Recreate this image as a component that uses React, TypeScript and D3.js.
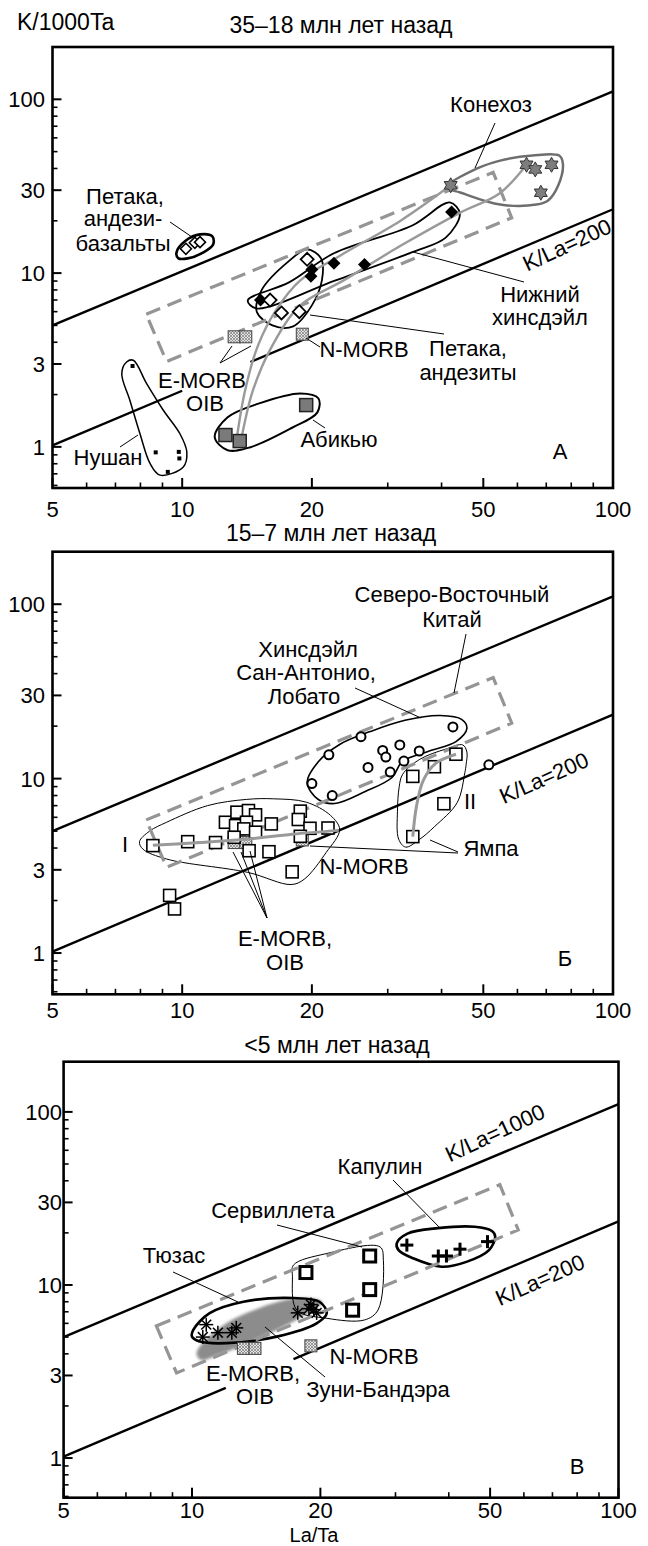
import React from "react";
import * as d3 from "d3";

type P = [number, number];

const FONT = "'Liberation Sans', Arial, Helvetica, sans-serif";
const FS = 22;
const FS_TITLE = 23;

// ---------- axis ticks ----------
const xMajorTicks = [5, 10, 20, 50, 100];
const xMinorTicks = [6, 7, 8, 9, 30, 40, 60, 70, 80, 90];
const yMajorTicks = [1, 3, 10, 30, 100];
const yMinorTicks = [0.6, 0.7, 0.8, 0.9, 2, 4, 5, 6, 7, 8, 9, 20, 40, 50, 60, 70, 80, 90];
const panelTitles = ["35–18 млн лет назад", "15–7 млн лет назад", "<5 млн лет назад"];
const panelLetters = ["А", "Б", "В"];

// ---------- reference compositions (La/Ta, K/1000Ta) ----------
const eMorbOib: P[] = [[13.2, 4.3], [14.05, 4.3]];
const nMorb: P[] = [[19.0, 4.45]];
const refBox: P[] = [[8.25, 5.8], [52.7, 38.0], [58.2, 20.8], [9.2, 3.1]];
const klaLine1000: P[] = [[5, 5.0], [100, 111]];
const klaLine200: P[] = [[5, 1.02], [100, 23.3]];

// ---------- panel A: 35–18 Ma ----------
const konehoz: P[] = [[42, 32], [63, 42], [66, 39.5], [72, 42], [68, 29]];
const konehozHull: P[] = [[41, 31.1], [48.4, 40], [54.7, 44.4], [65, 47.5], [75, 47.5], [76.5, 42.7], [74.6, 31.9], [70.7, 26.2], [66.4, 24.8], [54.7, 24.8], [44.2, 29.1]];
const lowerHinsdale: P[] = [[15.2, 7.0], [20.0, 10.5], [19.9, 9.6], [22.5, 11.4], [26.5, 11.2], [42.2, 22.5]];
const lowerHinsdaleHull: P[] = [[14.2, 6.97], [17.7, 8.84], [22.5, 13.0], [34.2, 18.8], [41.8, 25.5], [44.1, 22.0], [40.9, 16.0], [34.2, 13.2], [22.7, 9.08], [14.85, 6.27]];
const petacaAndesite: P[] = [[19.5, 12.0], [16.0, 7.0], [17.0, 5.9], [18.7, 6.0]];
const petacaAndesiteHull: P[] = [[19.5, 13.7], [21.0, 12.15], [21.1, 9.08], [20.0, 6.52], [18.1, 4.94], [16.2, 5.0], [14.9, 6.0], [15.3, 8.0], [17.6, 11.6]];
const petacaBasalt: P[] = [[10.2, 13.8], [10.7, 14.95], [11.0, 15.07]];
const petacaBasaltHull: P[] = [[9.7, 13.15], [10.2, 15.4], [11.0, 16.7], [11.75, 16.25], [11.8, 14.6], [11.2, 13.15], [10.3, 12.15], [9.8, 12.15]];
const abiquiu: P[] = [[12.6, 1.17], [13.6, 1.08], [19.4, 1.74]];
const abiquiuHull: P[] = [[11.9, 1.137], [12.75, 1.48], [15.1, 1.78], [18.8, 2.03], [20.7, 1.905], [20.6, 1.58], [17.9, 1.28], [14.4, 0.996], [12.75, 0.957]];
const nushan: P[] = [[7.67, 2.92], [8.68, 0.93], [9.82, 0.936], [9.85, 0.858], [9.26, 0.718]];
const nushanHull: P[] = [[7.7, 3.15], [8.27, 2.31], [9.04, 1.625], [9.88, 1.19], [10.25, 0.936], [10.06, 0.767], [8.88, 0.688], [8.42, 0.803], [7.98, 1.19], [7.56, 1.855], [7.24, 2.64], [7.43, 3.08]];
const trendA1: P[] = [[13.4, 1.14], [14.0, 2.12], [15.0, 3.84], [16.5, 6.1], [18.8, 9.08], [23.3, 12.64], [32.2, 20.1], [42, 32]];
const trendA2: P[] = [[13.7, 1.09], [14.6, 2.12], [16.2, 3.84], [18.8, 6.52], [23.7, 9.08], [32.2, 14.4], [44.2, 22.3], [54.5, 28.7], [63, 42]];

// ---------- panel B: 15–7 Ma ----------
const sanAntonio: P[] = [[42.5, 19.8], [26.0, 17.4], [21.9, 13.7], [32.0, 15.6], [29.2, 14.5], [29.7, 13.3], [35.5, 14.4], [32.7, 12.6], [27.0, 11.6], [30.4, 10.9], [20.0, 9.37], [22.3, 8.0], [51.5, 12.0]];
const sanAntonioHull: P[] = [[19.5, 9.5], [20.7, 12.5], [23.2, 15.7], [27.3, 18.6], [32.9, 21.6], [39.7, 23.0], [44.6, 21.8], [45.8, 19.4], [43.2, 16.3], [37.2, 14.3], [32.4, 12.5], [30.7, 10.15], [26.6, 8.43], [22.6, 7.2], [20.7, 7.59]];
const yampaI: P[] = [[8.55, 4.13], [10.3, 4.35], [11.95, 4.3], [12.6, 5.62], [13.4, 6.42], [14.25, 6.56], [14.8, 6.2], [13.3, 5.38], [14.1, 5.62], [13.9, 5.15], [13.2, 4.61], [14.8, 4.93], [16.1, 5.5], [14.3, 3.86], [15.9, 3.81], [18.8, 6.51], [18.6, 5.83], [19.8, 5.19], [21.8, 5.21], [18.8, 4.67], [18.0, 2.92], [9.35, 2.14], [9.6, 1.79]];
const yampaII: P[] = [[34.3, 10.3], [38.5, 11.7], [43.2, 13.8], [40.5, 7.18], [34.3, 4.65]];
const trendB1: P[] = [[8.55, 4.15], [11, 4.3], [14.2, 4.5], [18, 4.8], [23.1, 5.05]];
const trendB2: P[] = [[34.3, 4.65], [35.0, 7.0], [36.3, 9.8], [38.7, 12.2], [43.2, 13.8]];
const yampaIHull: P[] = [[7.96, 4.35], [8.4, 5.0], [9.2, 5.62], [11.45, 7.0], [14.1, 7.6], [16.3, 7.66], [19.4, 7.33], [22.1, 6.15], [23.2, 5.1], [21.6, 3.78], [19.2, 2.65], [17.9, 2.47], [14.2, 2.9], [9.2, 3.46], [8.1, 3.95]];
const yampaIIHull: P[] = [[31.9, 9.0], [32.5, 10.6], [35.6, 12.9], [41, 14.8], [44.8, 15.6], [45.8, 14.2], [45.6, 12], [45.3, 10.8], [43.5, 7.3], [38.5, 5.3], [35.5, 4.47], [33, 4.05], [31.8, 4.5], [31.6, 6.5]];

// ---------- panel C: <5 Ma ----------
const capulin: P[] = [[31.9, 17.0], [37.8, 14.7], [39.5, 14.7], [42.5, 16.1], [49.3, 17.8]];
const capulinHull: P[] = [[30.2, 17.4], [32, 19.8], [37.7, 21.3], [46, 21.7], [50.5, 20.5], [51.4, 19], [49.7, 15.9], [44, 13.6], [38.5, 12.75], [33, 14.26], [30.5, 15.9]];
const servilleta: P[] = [[18.5, 11.8], [26.1, 14.7], [26.1, 9.4], [23.8, 7.15]];
const servilletaHull: P[] = [[17.3, 13.04], [20.7, 15.2], [27.6, 16.6], [28.1, 13.9], [27.3, 7.17], [25.4, 6.28], [20.7, 6.42], [17.6, 7.17], [17.2, 11.2]];
const tusas: P[] = [[10.8, 5.9], [10.6, 5.0], [11.5, 5.3], [12.4, 5.3], [12.7, 5.65], [17.7, 6.9], [19.0, 7.7], [19.3, 7.2], [19.6, 6.9], [18.8, 7.3]];
const tusasHull: P[] = [[10.07, 5.5], [11.0, 6.87], [13.2, 8.0], [17.3, 8.4], [19.9, 8.0], [20.7, 6.87], [19.6, 6.0], [15.8, 5.03], [12.06, 4.61], [10.44, 4.71], [10.0, 5.03]];
const zuniBandera: P[] = [[10.25, 4.04], [11.6, 5.65], [14.4, 7.37], [17.9, 8.4], [20.2, 7.98], [17.9, 6.45], [14.4, 4.94], [11.6, 3.96], [10.5, 3.69]];

// ---------- layout ----------
type Cfg = { left: number; right: number; top: number; bottom: number; yMin: number; yMax: number; yLabelX: number; xLabelY: number; titleX: number; titleY: number; gap: [number, number] | null };
const PANELS: Cfg[] = [
  { left: 52.5, right: 613, top: 47, bottom: 488, yMin: 0.58, yMax: 200, yLabelX: 45, xLabelY: 517, titleX: 341, titleY: 33, gap: [10.0, 14.4] },
  { left: 52.5, right: 613, top: 551.7, bottom: 994.3, yMin: 0.58, yMax: 200, yLabelX: 45, xLabelY: 1018, titleX: 331, titleY: 541, gap: null },
  { left: 63.6, right: 618.5, top: 1061.7, bottom: 1497.7, yMin: 0.59, yMax: 195, yLabelX: 62, xLabelY: 1518, titleX: 337, titleY: 1053, gap: [12.0, 17.3] },
];

type Lbl = { t: string; x: number; y: number; rot?: number };
const labelsA: Lbl[] = [
  { t: "Конехоз", x: 491, y: 112 },
  { t: "Петака,", x: 125, y: 204 }, { t: "андези-", x: 123, y: 226 }, { t: "базальты", x: 123, y: 251 },
  { t: "Нижний", x: 540, y: 302 }, { t: "хинсдэйл", x: 540, y: 325 },
  { t: "Петака,", x: 468, y: 356 }, { t: "андезиты", x: 468, y: 380 },
  { t: "N-MORB", x: 364, y: 357 },
  { t: "E-MORB", x: 202, y: 388 }, { t: "OIB", x: 205, y: 411 },
  { t: "Абикью", x: 339, y: 447 },
  { t: "Нушан", x: 108, y: 465 },
  { t: "K/La=200", x: 567, y: 245, rot: -25 },
];
const leadersA: P[][] = [
  [[495, 123], [475, 168]], [[170, 222], [192, 237]], [[413, 252], [524, 282]], [[310, 315], [444, 334]],
  [[306, 338], [320, 347]], [[220, 363], [232, 346]], [[220, 363], [251, 346]], [[313, 420], [325, 428]], [[120, 447], [138, 435]],
];
const labelsB: Lbl[] = [
  { t: "Северо-Восточный", x: 452, y: 602 }, { t: "Китай", x: 452, y: 627 },
  { t: "Хинсдэйл", x: 308, y: 657 }, { t: "Сан-Антонио,", x: 306, y: 680 }, { t: "Лобато", x: 304, y: 704 },
  { t: "I", x: 125, y: 852 }, { t: "II", x: 470, y: 809 }, { t: "Ямпа", x: 491, y: 856 },
  { t: "N-MORB", x: 364, y: 874 },
  { t: "E-MORB,", x: 285, y: 946 }, { t: "OIB", x: 285, y: 970 },
  { t: "K/La=200", x: 544, y: 778, rot: -24 },
];
const leadersB: P[][] = [
  [[466, 634], [454, 693]], [[355, 688], [421, 718]], [[458, 852], [430, 840]], [[458, 853], [310, 846]],
  [[267, 918], [233, 852]], [[267, 918], [241, 852]], [[267, 918], [250, 851]],
];
const labelsC: Lbl[] = [
  { t: "Капулин", x: 380, y: 1174 }, { t: "Сервиллета", x: 273, y: 1218 }, { t: "Тюзас", x: 174, y: 1263 },
  { t: "N-MORB", x: 374, y: 1364 }, { t: "E-MORB,", x: 253, y: 1381 }, { t: "OIB", x: 255, y: 1404 },
  { t: "Зуни-Бандэра", x: 378, y: 1397 },
  { t: "K/La=1000", x: 495, y: 1133, rot: -25 }, { t: "K/La=200", x: 540, y: 1280, rot: -24 },
];
const leadersC: P[][] = [[[393, 1180], [440, 1228]], [[277, 1225], [362, 1247]], [[173, 1272], [238, 1302]], [[265, 1327], [325, 1377]]];
const letterPos: P[] = [[560, 459], [565, 966], [577, 1474]];

// ---------- helpers ----------
function powerLine(line: P[], x0: number, x1: number): P[] {
  const [[xa, ya], [xb, yb]] = line;
  const k = Math.log(yb / ya) / Math.log(xb / xa);
  const f = (x: number) => ya * Math.pow(x / xa, k);
  return [[x0, f(x0)], [x1, f(x1)]];
}
function hexagram(cx: number, cy: number, r: number) {
  const pts: string[] = [];
  for (let i = 0; i < 12; i++) {
    const a = -Math.PI / 2 + (i * Math.PI) / 6;
    const rr = i % 2 === 0 ? r : r / Math.sqrt(3);
    pts.push(`${(cx + rr * Math.cos(a)).toFixed(2)},${(cy + rr * Math.sin(a)).toFixed(2)}`);
  }
  return `M${pts.join("L")}Z`;
}
function diamond(cx: number, cy: number, r: number) {
  return `M${cx},${cy - r}L${cx + r},${cy}L${cx},${cy + r}L${cx - r},${cy}Z`;
}

function Text({ l }: { l: Lbl }) {
  if (l.rot !== undefined)
    return (
      <text x={0} y={0} transform={`translate(${l.x},${l.y}) rotate(${l.rot})`} textAnchor="middle" dominantBaseline="central" fontSize={FS} fontFamily={FONT}>
        {l.t}
      </text>
    );
  return (
    <text x={l.x} y={l.y} textAnchor="middle" fontSize={FS} fontFamily={FONT}>
      {l.t}
    </text>
  );
}

function Panel({ idx, cfg }: { idx: number; cfg: Cfg }) {
  const sx = d3.scaleLog().domain([5, 100]).range([cfg.left, cfg.right]);
  const sy = d3.scaleLog().domain([cfg.yMin, cfg.yMax]).range([cfg.bottom, cfg.top]);
  const line = d3.line<P>().x((d) => sx(d[0])).y((d) => sy(d[1]));
  const smooth = d3.line<P>().x((d) => sx(d[0])).y((d) => sy(d[1])).curve(d3.curveCatmullRom.alpha(0.5));
  const closed = d3.line<P>().x((d) => sx(d[0])).y((d) => sy(d[1])).curve(d3.curveCatmullRomClosed.alpha(0.5));
  const polygon = d3.line<P>().x((d) => sx(d[0])).y((d) => sy(d[1])).curve(d3.curveLinearClosed);

  const lowerSegs: P[][] = cfg.gap
    ? [powerLine(klaLine200, 5, cfg.gap[0]), powerLine(klaLine200, cfg.gap[1], 100)]
    : [powerLine(klaLine200, 5, 100)];

  const refMarks = (
    <g>
      {[...eMorbOib, ...nMorb].map((d, i) => (
        <rect key={i} x={sx(d[0]) - 6} y={sy(d[1]) - 6} width={12} height={12} fill="url(#xh)" stroke="#444" strokeWidth={1} />
      ))}
    </g>
  );

  const hull = (pts: P[], sw: number, color = "#000") => <path d={closed(pts) || ""} fill="none" stroke={color} strokeWidth={sw} />;
  const box = <path d={polygon(refBox) || ""} fill="none" stroke="#959595" strokeWidth={3.2} strokeDasharray="15,8" />;

  let content: React.ReactNode = null;
  let labels: Lbl[] = [];
  let leaders: P[][] = [];
  if (idx === 0) {
    labels = labelsA;
    leaders = leadersA;
    content = (
      <g>
        {hull(konehozHull, 2.5, "#6e6e6e")}
        {hull(lowerHinsdaleHull, 1.8)}
        {hull(petacaAndesiteHull, 1.8)}
        {hull(petacaBasaltHull, 2.6)}
        {hull(abiquiuHull, 2)}
        {hull(nushanHull, 1.5)}
        {box}
        <path d={smooth(trendA1) || ""} fill="none" stroke="#9a9a9a" strokeWidth={2.4} />
        <path d={smooth(trendA2) || ""} fill="none" stroke="#9a9a9a" strokeWidth={2.4} />
        {refMarks}
        {konehoz.map((d, i) => (
          <path key={i} d={hexagram(sx(d[0]), sy(d[1]), 7.5)} fill="#7d7d7d" stroke="#333" strokeWidth={1} />
        ))}
        {lowerHinsdale.map((d, i) => (
          <path key={i} d={diamond(sx(d[0]), sy(d[1]), 6.5)} fill="#000" />
        ))}
        {petacaAndesite.map((d, i) => (
          <path key={i} d={diamond(sx(d[0]), sy(d[1]), 6.5)} fill="#fff" stroke="#000" strokeWidth={1.8} />
        ))}
        {petacaBasalt.map((d, i) => (
          <path key={i} d={diamond(sx(d[0]), sy(d[1]), 5.5)} fill="#fff" stroke="#000" strokeWidth={1.6} />
        ))}
        {abiquiu.map((d, i) => (
          <rect key={i} x={sx(d[0]) - 6.5} y={sy(d[1]) - 6.5} width={13} height={13} fill="#7a7a7a" stroke="#222" strokeWidth={1.5} />
        ))}
        {nushan.map((d, i) => (
          <rect key={i} x={sx(d[0]) - 2} y={sy(d[1]) - 2} width={4} height={4} fill="#000" />
        ))}
      </g>
    );
  } else if (idx === 1) {
    labels = labelsB;
    leaders = leadersB;
    content = (
      <g>
        {hull(sanAntonioHull, 1.6)}
        {hull(yampaIHull, 1)}
        {hull(yampaIIHull, 1)}
        {box}
        {refMarks}
        {sanAntonio.map((d, i) => (
          <circle key={i} cx={sx(d[0])} cy={sy(d[1])} r={4.5} fill="#fff" stroke="#000" strokeWidth={2} />
        ))}
        {[...yampaI, ...yampaII].map((d, i) => (
          <rect key={i} x={sx(d[0]) - 6} y={sy(d[1]) - 6} width={12} height={12} fill="#fff" stroke="#000" strokeWidth={1.6} />
        ))}
        <path d={smooth(trendB1) || ""} fill="none" stroke="#9a9a9a" strokeWidth={3} />
        <path d={smooth(trendB2) || ""} fill="none" stroke="#9a9a9a" strokeWidth={3} />
      </g>
    );
  } else {
    labels = labelsC;
    leaders = leadersC;
    content = (
      <g>
        <path d={closed(zuniBandera) || ""} fill="#8c8c8c" filter="url(#blur)" />
        {hull(tusasHull, 2.6)}
        {hull(servilletaHull, 1)}
        {hull(capulinHull, 2.6)}
        {box}
        {refMarks}
        {servilleta.map((d, i) => (
          <rect key={i} x={sx(d[0]) - 6} y={sy(d[1]) - 6} width={12} height={12} fill="#fff" stroke="#000" strokeWidth={3} />
        ))}
        {tusas.map((d, i) => {
          const cx = sx(d[0]);
          const cy = sy(d[1]);
          return (
            <g key={i} stroke="#000" strokeWidth={1.5}>
              {[0, 45, 90, 135].map((a) => {
                const r = 7;
                const c = Math.cos((a * Math.PI) / 180) * r;
                const s = Math.sin((a * Math.PI) / 180) * r;
                return <line key={a} x1={cx - c} y1={cy - s} x2={cx + c} y2={cy + s} />;
              })}
            </g>
          );
        })}
        {capulin.map((d, i) => {
          const cx = sx(d[0]);
          const cy = sy(d[1]);
          return (
            <g key={i} stroke="#000" strokeWidth={3}>
              <line x1={cx - 6.5} y1={cy} x2={cx + 6.5} y2={cy} />
              <line x1={cx} y1={cy - 6.5} x2={cx} y2={cy + 6.5} />
            </g>
          );
        })}
      </g>
    );
  }

  return (
    <g>
      <text x={cfg.titleX} y={cfg.titleY} textAnchor="middle" fontSize={FS_TITLE} fontFamily={FONT}>
        {panelTitles[idx]}
      </text>
      {/* K/La reference lines */}
      <path d={line(powerLine(klaLine1000, 5, 100)) || ""} stroke="#000" strokeWidth={2.4} fill="none" />
      {lowerSegs.map((s, i) => (
        <path key={i} d={line(s) || ""} stroke="#000" strokeWidth={2.4} fill="none" />
      ))}
      {content}
      {leaders.map((l, i) => (
        <line key={i} x1={l[0][0]} y1={l[0][1]} x2={l[1][0]} y2={l[1][1]} stroke="#000" strokeWidth={1} />
      ))}
      {labels.map((l, i) => (
        <Text key={i} l={l} />
      ))}
      <text x={letterPos[idx][0]} y={letterPos[idx][1]} textAnchor="middle" fontSize={FS} fontFamily={FONT}>
        {panelLetters[idx]}
      </text>
      {/* frame */}
      <rect x={cfg.left} y={cfg.top} width={cfg.right - cfg.left} height={cfg.bottom - cfg.top} fill="none" stroke="#000" strokeWidth={2.6} />
      {/* y ticks */}
      {yMajorTicks.map((v) => (
        <g key={v}>
          <line x1={cfg.left} x2={cfg.left + 9} y1={sy(v)} y2={sy(v)} stroke="#000" strokeWidth={2} />
          <text x={cfg.yLabelX} y={sy(v) + 8} textAnchor="end" fontSize={FS} fontFamily={FONT}>
            {v}
          </text>
        </g>
      ))}
      {yMinorTicks.map((v) => (
        <line key={v} x1={cfg.left} x2={cfg.left + 5} y1={sy(v)} y2={sy(v)} stroke="#000" strokeWidth={1.6} />
      ))}
      {/* x ticks */}
      {xMajorTicks.map((v) => (
        <g key={v}>
          <line x1={sx(v)} x2={sx(v)} y1={cfg.bottom} y2={cfg.bottom - 10} stroke="#000" strokeWidth={2} />
          <text x={sx(v)} y={cfg.xLabelY} textAnchor="middle" fontSize={FS} fontFamily={FONT}>
            {v}
          </text>
        </g>
      ))}
      {xMinorTicks.map((v) => (
        <line key={v} x1={sx(v)} x2={sx(v)} y1={cfg.bottom} y2={cfg.bottom - 5.5} stroke="#000" strokeWidth={1.6} />
      ))}
    </g>
  );
}

export default function App() {
  return (
    <svg width={648} height={1546} viewBox="0 0 648 1546" style={{ position: "absolute", left: 0, top: 0, background: "#fff" }}>
      <defs>
        <pattern id="xh" width="3" height="3" patternUnits="userSpaceOnUse">
          <rect width="3" height="3" fill="#e4e4e4" />
          <path d="M0,0L3,3M3,0L0,3" stroke="#7a7a7a" strokeWidth={0.7} />
        </pattern>
        <filter id="blur" x="-20%" y="-50%" width="140%" height="200%">
          <feGaussianBlur stdDeviation="1.6" />
        </filter>
      </defs>
      <rect x={0} y={0} width={648} height={1546} fill="#fff" />
      <text x={17} y={30} fontSize={FS_TITLE} fontFamily={FONT}>
        K/1000Ta
      </text>
      {PANELS.map((cfg, i) => (
        <Panel key={i} idx={i} cfg={cfg} />
      ))}
      <text x={314} y={1542} textAnchor="middle" fontSize={20} fontFamily={FONT}>
        La/Ta
      </text>
    </svg>
  );
}
